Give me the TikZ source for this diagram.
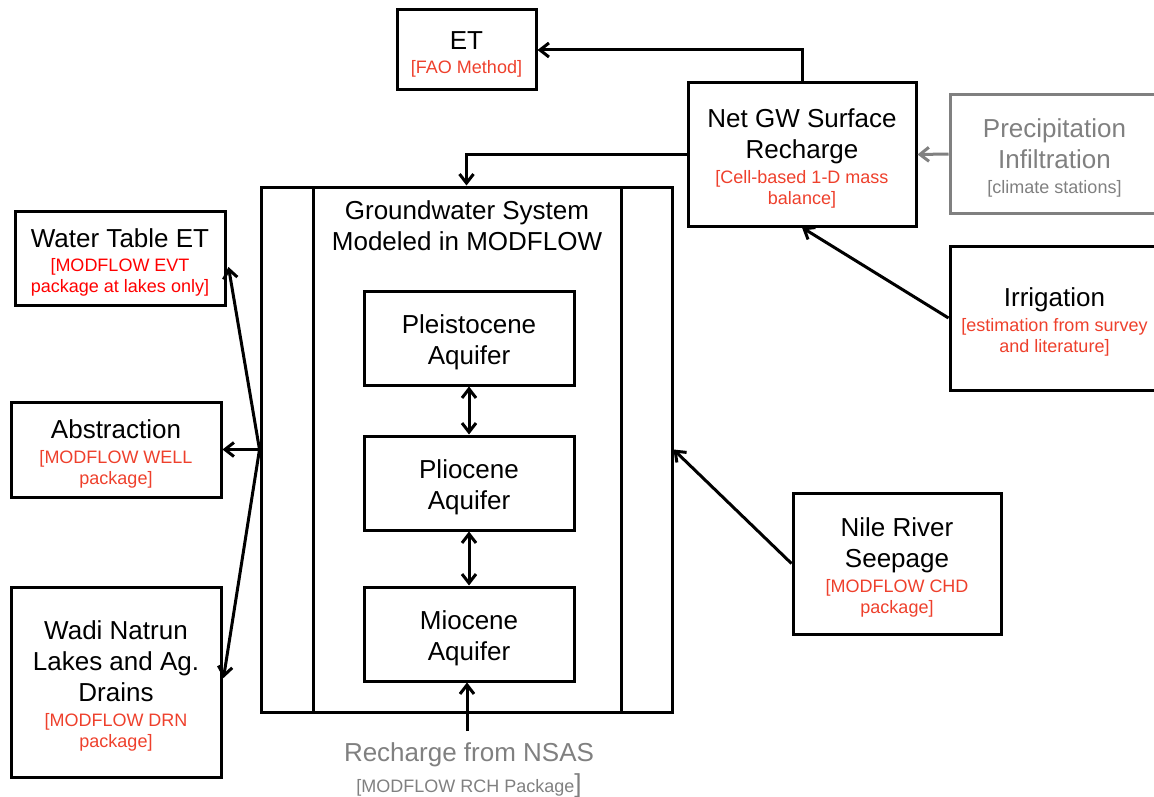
\documentclass[tikz,border=0pt]{standalone}
\usepackage{fontspec}
\setmainfont{Liberation Sans}
\usetikzlibrary{arrows.meta}
\definecolor{redA}{RGB}{255,0,0}
\definecolor{redB}{RGB}{238,64,44}
\definecolor{grayA}{RGB}{128,128,128}
\newcommand\rd[1]{{\color{redB}\fontsize{18}{21}\selectfont #1}}
\newcommand\rdA[1]{{\color{redA}\fontsize{18}{21}\selectfont #1}}
\newcommand\smalltxt[1]{{\fontsize{18}{21}\selectfont #1}}
\newcommand\tp{\rule{0pt}{27pt}}
\begin{document}
\begin{tikzpicture}[x=1pt,y=-1pt,
  box/.style={draw, line width=3pt, align=center, inner sep=0pt, font=\fontsize{26}{31}\selectfont},
  txt/.style={align=center, inner sep=0pt, font=\fontsize{26}{31}\selectfont},
  arr/.style={line width=3pt, -{Straight Barb[length=9pt,width=14pt]}},
  darr/.style={line width=3pt, {Straight Barb[length=9pt,width=14pt]}-{Straight Barb[length=9pt,width=14pt]}},
]
\useasboundingbox (0,0) rectangle (1154,797);

% top
\node[box, minimum width=139pt, minimum height=80pt] (et) at (466.5,50) {\tp ET\\[-7pt]\rd{[FAO Method]}};
\node[box, minimum width=228pt, minimum height=143pt] (net) at (802,154.5)
  {\tp Net GW Surface\\Recharge\\[-6pt]\rd{[Cell-based 1-D mass}\\[-10pt]\rd{balance]}};
\node[box, draw=grayA, text=grayA, minimum width=209pt, minimum height=118pt] (pre) at (1054.5,154)
  {\tp Precipitation\\Infiltration\\[-6pt]\smalltxt{[climate stations]}};
\node[box, minimum width=209pt, minimum height=144pt] (irr) at (1054.5,318)
  {\tp Irrigation\\[-6pt]\rd{[estimation from survey}\\[-10pt]\rd{and literature]}};
\node[box, minimum width=208pt, minimum height=141pt] (nile) at (897,563.5)
  {\tp Nile River\\Seepage\\[-6pt]\rd{[MODFLOW CHD}\\[-10pt]\rd{package]}};

% left
\node[box, minimum width=210pt, minimum height=94pt] (wt) at (120,258)
  {\tp Water Table ET\\[-7pt]\rdA{[MODFLOW EVT}\\[-10pt]\rdA{package at lakes only]}};
\node[box, minimum width=210pt, minimum height=95pt] (ab) at (116,449.5)
  {\tp Abstraction\\[-6pt]\rd{[MODFLOW WELL}\\[-10pt]\rd{package]}};
\node[box, minimum width=210pt, minimum height=190pt] (wd) at (116,682)
  {\tp Wadi Natrun\\Lakes and Ag.\\Drains\\[-6pt]\rd{[MODFLOW DRN}\\[-10pt]\rd{package]}};

% groundwater system
\node[box, minimum width=411pt, minimum height=525pt] (gw) at (466.5,449.5) {};
\draw[line width=3pt] (313,187) -- (313,712);
\draw[line width=3pt] (621,187) -- (621,712);
\node[txt] (title) at (467,226) {Groundwater System\\Modeled in MODFLOW};
\node[box, minimum width=210pt, minimum height=94pt] (ple) at (469,338) {\tp Pleistocene\\Aquifer};
\node[box, minimum width=210pt, minimum height=94pt] (pli) at (469,483) {\tp Pliocene\\Aquifer};
\node[box, minimum width=210pt, minimum height=94pt] (mio) at (469,634) {\tp Miocene\\Aquifer};

% bottom text
\node[txt, text=grayA] (nsas) at (469,770) {Recharge from NSAS\\\smalltxt{[MODFLOW RCH Package}]};
\coordinate (nsasTop) at (467,731);

% connectors
\draw[arr] (net.north) |- (et.east);
\draw[arr] (net.west) -| (gw.north);
\draw[arr, draw=grayA] (pre.west) -- (net.east);
\draw[arr] (irr.west) -- (net.south);
\draw[arr] (nile.west) -- (gw.east);
\draw[arr] (gw.west) -- ([shift={(2,9)}]wt.east);
\draw[arr] (gw.west) -- (ab.east);
\draw[arr] (gw.west) -- ([shift={(1,-4)}]wd.east);
\draw[darr] (ple.south) -- (pli.north);
\draw[darr] (pli.south) -- (mio.north);
\draw[arr] (nsasTop) -- (mio.south -| nsasTop);
\end{tikzpicture}
\end{document}
